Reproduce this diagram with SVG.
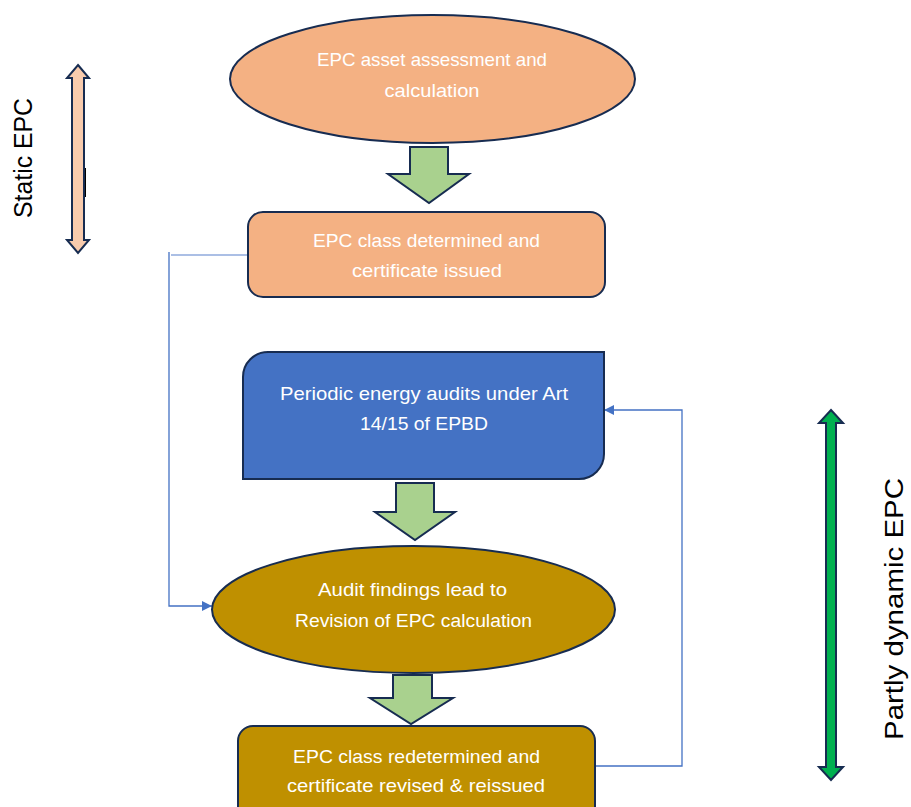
<svg xmlns="http://www.w3.org/2000/svg" width="911" height="807" viewBox="0 0 911 807">
<style>
.node{stroke:#172C51;stroke-width:2}
.orange{fill:#F4B183}
.blue{fill:#4472C4}
.gold{fill:#BF9000}
.t{font-family:"Liberation Sans",Arial,sans-serif;font-size:18.5px;fill:#FFFFFF;text-anchor:middle}
.big{stroke:#172C51;stroke-width:2;stroke-linejoin:miter}
.flow{fill:#A9D18E;stroke:#172C51;stroke-width:2;stroke-linejoin:miter}
.con{fill:none;stroke:#4472C4;stroke-width:1.3}
.side{font-family:"Liberation Sans",Arial,sans-serif;font-size:25px;fill:#000000;text-anchor:middle}
</style>
<defs>
<marker id="ah" viewBox="0 0 10 10" refX="10" refY="5" markerWidth="10" markerHeight="10" markerUnits="userSpaceOnUse" orient="auto">
<path d="M0,0 L10,5 L0,10 Z" fill="#4472C4"/>
</marker>
</defs>
<rect width="911" height="807" fill="#FFFFFF"/>

<g id="connectors">
<path class="con" d="M248,255 H171" stroke="#8FAADC" style="stroke:#8FAADC"/>
<path class="con" d="M169,252 V606 H212" marker-end="url(#ah)"/>
<path class="con" d="M595,766 H682 V410 H604" marker-end="url(#ah)"/>
</g>

<g id="flow-arrows">
<polygon class="flow" points="410,147 448,147 448,174 469,174 429,203 388,174 410,174"/>
<polygon class="flow" points="396,483 434,483 434,512 455,512 415,540 375,512 396,512"/>
<polygon class="flow" points="393,675 432,675 432,698 453,698 411,724 370,698 393,698"/>
</g>

<g id="n1">
<ellipse class="node orange" cx="432.5" cy="79" rx="202.5" ry="64"/>
<text class="t" x="432" y="66" textLength="230" lengthAdjust="spacingAndGlyphs">EPC asset assessment and</text>
<text class="t" x="432" y="97" textLength="95" lengthAdjust="spacingAndGlyphs">calculation</text>
</g>

<g id="n2">
<rect class="node orange" x="248" y="212" width="357" height="85" rx="15"/>
<text class="t" x="426.5" y="247" textLength="227" lengthAdjust="spacingAndGlyphs">EPC class determined and</text>
<text class="t" x="427" y="277" textLength="150" lengthAdjust="spacingAndGlyphs">certificate issued</text>
</g>

<g id="n3">
<path class="node blue" d="M268,352 H604 V454 A25,25 0 0 1 579,479 H243 V377 A25,25 0 0 1 268,352 Z"/>
<text class="t" x="424" y="400" textLength="288" lengthAdjust="spacingAndGlyphs">Periodic energy audits under Art</text>
<text class="t" x="424" y="430" textLength="128" lengthAdjust="spacingAndGlyphs">14/15 of EPBD</text>
</g>

<g id="n4">
<ellipse class="node gold" cx="413.5" cy="609.5" rx="201.5" ry="63.5"/>
<text class="t" x="412.5" y="596" textLength="189" lengthAdjust="spacingAndGlyphs">Audit findings lead to</text>
<text class="t" x="413.5" y="627" textLength="237" lengthAdjust="spacingAndGlyphs">Revision of EPC calculation</text>
</g>

<g id="n5">
<rect class="node gold" x="238" y="726" width="357" height="110" rx="15"/>
<text class="t" x="416.5" y="763" textLength="247" lengthAdjust="spacingAndGlyphs">EPC class redetermined and</text>
<text class="t" x="416" y="792" textLength="258" lengthAdjust="spacingAndGlyphs">certificate revised &amp; reissued</text>
</g>

<g id="static-epc">
<polygon class="big" fill="#F8CBAD" points="78,65 89,78 84,78 84,240 89,240 78,253 67,240 72,240 72,78 67,78"/>
<line x1="85.5" y1="168" x2="85.5" y2="197" stroke="#000000" stroke-width="1"/>
<text class="side" transform="translate(32,158) rotate(-90)" x="0" y="0" textLength="120" lengthAdjust="spacingAndGlyphs">Static EPC</text>
</g>

<g id="dynamic-epc">
<polygon class="big" fill="#00B050" points="831,410 843,423 836,423 836,767 843,767 831,780 819,767 826,767 826,423 819,423"/>
<text class="side" transform="translate(903,609) rotate(-90)" x="0" y="0" textLength="262" lengthAdjust="spacingAndGlyphs">Partly dynamic EPC</text>
</g>
</svg>
